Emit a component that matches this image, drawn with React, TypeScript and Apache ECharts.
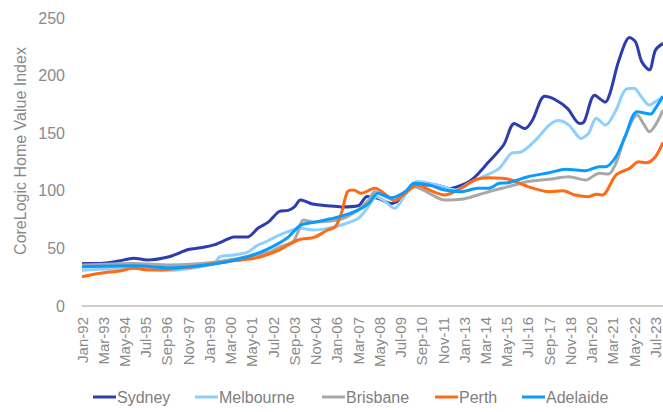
import React, { useEffect, useRef } from "react";
import * as echarts from "echarts";

// Month index: 0 = Jan-92, 383 = Dec-23
const monthNames = ["Jan", "Feb", "Mar", "Apr", "May", "Jun", "Jul", "Aug", "Sep", "Oct", "Nov", "Dec"];

const seriesNames = ["Sydney", "Melbourne", "Brisbane", "Perth", "Adelaide"];
const seriesColors = ["#2D3CAE", "#8ECFFF", "#A8A8A8", "#FF6A13", "#0A9BFF"];

const sydneyMonths = [0, 12, 24, 34, 43, 58, 70, 78, 87, 96, 100, 109, 116, 123, 130, 136, 140, 144, 147, 152, 162, 171, 182, 188, 195, 204, 209, 220, 233, 242, 253, 259, 268, 278, 285, 292, 297, 305, 312, 320, 328, 331, 338, 345, 348, 354, 361, 365, 369, 374, 378, 383];
const sydneyValues = [37, 37, 39, 41.5, 40, 43, 49, 50.5, 53, 58, 60, 60, 67.5, 73, 82, 83, 86, 92, 91, 88.5, 87, 86, 87, 95, 93.5, 89, 92, 105, 105, 102, 106.5, 112, 125, 140, 158.5, 154, 161.5, 182, 179, 171.5, 158.5, 160, 183, 177, 184.5, 213.5, 233, 229, 212, 205, 222, 228];

const melbourneMonths = [0, 34, 58, 78, 87, 91, 100, 109, 116, 120, 130, 139, 144, 153, 162, 171, 182, 188, 194, 200, 206, 213, 221, 229, 238, 246, 255, 264, 275, 283, 290, 299, 308, 314, 321, 329, 334, 339, 345, 352, 358, 364, 368, 374, 378, 383];
const melbourneValues = [31, 33, 31, 34, 37, 42.8, 44.3, 46.6, 53, 55, 61.6, 66, 67.4, 66, 67.4, 70.3, 76, 84.8, 94.9, 90.5, 84.8, 96.4, 108, 106.5, 103.6, 100.7, 106.5, 112, 119.5, 132.5, 134, 144, 157, 161, 157, 145.5, 150, 163, 157, 170, 187.5, 189, 183, 174.5, 177.3, 182];

const brisbaneMonths = [0, 34, 58, 87, 109, 124, 130, 139, 142, 146, 153, 171, 182, 189, 193, 200, 206, 213, 219, 229, 239, 250, 261, 268, 281, 294, 308, 321, 332, 341, 347, 352, 358, 366, 370, 374, 378, 383];
const brisbaneValues = [35.6, 37, 35.6, 38, 42.8, 47, 51, 55.8, 63, 74.6, 73, 75.5, 83.3, 92, 99.2, 94.9, 92, 97.8, 103.6, 97.8, 92, 92.6, 96.4, 99.2, 103.6, 108, 110, 112.2, 109.4, 115.2, 114.6, 124, 147, 165.8, 158.6, 151.3, 157, 170];

const perthMonths = [0, 12, 25, 34, 45, 58, 78, 96, 109, 118, 130, 136, 144, 153, 162, 167, 171, 175, 179, 184, 193, 202, 206, 213, 221, 229, 239, 250, 259, 268, 277, 283, 294, 308, 317, 325, 334, 339, 343, 352, 361, 367, 372, 378, 383];
const perthValues = [25.4, 28.4, 30.4, 32.7, 31.2, 32, 35, 38.5, 40.5, 42.8, 48.6, 53, 57.9, 59.6, 66, 68.8, 80.5, 99.2, 100.7, 97.8, 102.2, 94.9, 91.4, 97.8, 105, 100.7, 96.4, 102.2, 109.4, 111.4, 110.8, 109.4, 103.6, 99.2, 100, 96.4, 94.9, 97, 96.4, 113.7, 119.5, 125.3, 124.4, 129.6, 142];

const adelaideMonths = [0, 34, 58, 87, 109, 122, 135, 144, 153, 171, 182, 189, 195, 204, 213, 219, 229, 239, 250, 261, 268, 275, 281, 294, 308, 319, 332, 341, 345, 352, 358, 366, 375, 378, 383];
const adelaideValues = [34.1, 35, 33.3, 36.5, 42.8, 49.2, 58.8, 70, 72.6, 78, 83.3, 89.1, 97.8, 94, 99.2, 106.5, 105, 100.7, 99.2, 102.2, 102.2, 106.5, 107, 112.2, 115.7, 118.7, 117.4, 120.9, 120.9, 129.6, 147, 168.7, 166.7, 171.6, 182];

const yTicks = [0, 50, 100, 150, 200, 250];
const yTitle = "CoreLogic Home Value Index";

const allMonths = [sydneyMonths, melbourneMonths, brisbaneMonths, perthMonths, adelaideMonths];
const allValues = [sydneyValues, melbourneValues, brisbaneValues, perthValues, adelaideValues];

// legend item left positions (px)
const legendLefts = [93, 195, 322, 435, 522];

function monthLabel(m: number): string {
  const yr = 1992 + Math.floor(m / 12);
  return monthNames[m % 12] + "-" + String(yr % 100).padStart(2, "0");
}

export default function App() {
  const ref = useRef<HTMLDivElement>(null);
  useEffect(() => {
    if (!ref.current) return;
    const chart = echarts.init(ref.current, null, { renderer: "svg" });
    const font = "'Liberation Sans', Arial, sans-serif";
    chart.setOption({
      animation: false,
      textStyle: { fontFamily: font },
      grid: { left: 82, right: 0, top: 18, bottom: 106, outerBoundsMode: "none" },
      xAxis: {
        type: "value",
        min: 0,
        max: 383,
        interval: 14,
        axisLine: { show: true, lineStyle: { color: "#C4BDB6", width: 1.5 } },
        axisTick: { show: false },
        splitLine: { show: false },
        axisLabel: {
          rotate: 90,
          fontSize: 15,
          color: "#8A8A8A",
          margin: 11,
          fontFamily: font,
          showMaxLabel: false,
          formatter: (v: number) => (v % 14 === 0 ? monthLabel(v) : ""),
        },
      },
      yAxis: {
        type: "value",
        min: yTicks[0],
        max: yTicks[yTicks.length - 1],
        interval: 50,
        axisLine: { show: false },
        axisTick: { show: false },
        splitLine: { show: false },
        axisLabel: { fontSize: 16, color: "#8A8A8A", margin: 17, fontFamily: font },
      },
      legend: seriesNames.map((name, i) => ({
        left: legendLefts[i],
        top: 389,
        padding: 0,
        icon: "rect",
        itemWidth: 23,
        itemHeight: 3,
        textStyle: { fontSize: 16, color: "#808080", fontFamily: font, padding: [0, 0, 0, -4] },
        data: [name],
      })),
      graphic: [
        {
          type: "text",
          x: 20,
          y: 151,
          rotation: Math.PI / 2,
          style: {
            text: yTitle,
            fontSize: 16,
            fill: "#8A8A8A",
            fontFamily: font,
            align: "center",
            verticalAlign: "middle",
          },
        },
      ],
      series: seriesNames.map((name, i) => ({
        name,
        type: "line",
        data: allMonths[i].map((m, j) => [m, allValues[i][j]]),
        showSymbol: false,
        smooth: 0.3,
        lineStyle: { width: 3, color: seriesColors[i] },
        itemStyle: { color: seriesColors[i] },
      })),
    });
    return () => chart.dispose();
  }, []);
  return <div ref={ref} style={{ width: 663, height: 412, position: "absolute", left: 0, top: 0 }} />;
}
